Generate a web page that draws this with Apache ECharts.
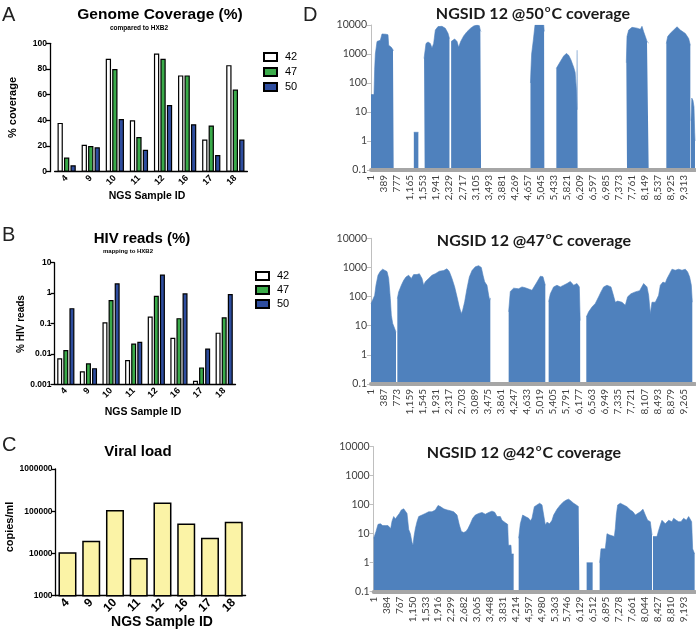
<!DOCTYPE html>
<html><head><meta charset="utf-8">
<script src="https://cdn.jsdelivr.net/npm/echarts@6/dist/echarts.min.js"></script>
<style>html,body{margin:0;padding:0;background:#fff}#c{width:696px;height:632px}</style>
</head><body><div id="c"></div>
<script>
// ---------- Data ----------
const sampleIds = ['4','9','10','11','12','16','17','18'];
const tempNames = ['42','47','50'];
// A: genome coverage (%)
const coverage42 = [38, 21, 88, 40, 92, 75, 25, 83];
const coverage47 = [11, 20, 80, 27, 88, 75, 36, 64];
const coverage50 = [5, 19, 41, 17, 52, 37, 13, 25];
// B: HIV reads (%)
const reads42 = [0.0072, 0.0027, 0.11, 0.0063, 0.17, 0.034, 0.0013, 0.05];
const reads47 = [0.0135, 0.0049, 0.59, 0.022, 0.82, 0.15, 0.0036, 0.16];
const reads50 = [0.32, 0.0034, 2.1, 0.025, 4.1, 0.98, 0.015, 0.93];
// C: viral load (copies/ml)
const viralLoad = [10700, 19900, 107000, 7800, 162000, 51000, 23600, 56600];

// D: tick labels (genome position)
const ticks50 = ['1','389','777','1,165','1,553','1,941','2,329','2,717','3,105','3,493','3,881','4,269','4,657','5,045','5,433','5,821','6,209','6,597','6,985','7,373','7,761','8,149','8,537','8,925','9,313'];
const ticks47 = ['1','387','773','1,159','1,545','1,931','2,317','2,703','3,089','3,475','3,861','4,247','4,633','5,019','5,405','5,791','6,177','6,563','6,949','7,335','7,721','8,107','8,493','8,879','9,265'];
const ticks42 = ['1','384','767','1,150','1,533','1,916','2,299','2,682','3,065','3,448','3,831','4,214','4,597','4,980','5,363','5,746','6,129','6,512','6,895','7,278','7,661','8,044','8,427','8,810','9,193'];
const genomeEnd50 = 9640, genomeEnd47 = 9611, genomeEnd42 = 9540;

// D: coverage depth [position, depth]; '-' marks uncovered gaps
const cov50 = [
 [1,40],[90,40],[110,300],[130,1000],[180,2700],[279,3000],[328,4900],[378,5200],[447,4800],[507,4600],[527,2000],[606,1700],[655,1400],[675,1300],
 [700,'-'],
 [1275,2],[1410,2],
 [1500,'-'],
 [1580,700],[1598,800],[1637,2300],[1697,2600],[1766,2300],[1816,1600],[1865,2300],[1915,6700],[1994,8800],[2113,9000],[2212,7700],[2292,5200],[2335,3400],
 [2360,'-'],
 [2385,2700],[2490,3300],[2560,2700],[2609,1700],[2669,2700],[2758,4200],[2857,5900],[2956,7600],[3055,9200],[3155,10000],[3224,9500],[3254,6500],[3275,6000],
 [4000,'-'],
 [4745,100],[4760,300],[4780,1000],[4830,3000],[4880,10000],[5140,10000],[5150,7000],[5158,6000],
 [5300,'-'],
 [5515,320],[5554,365],[5634,550],[5733,850],[5812,1050],[5882,900],[5951,620],[6030,350],[6075,230],[6110,60],[6125,12],[6129,12],[6133,1350],[6148,1350],
 [7000,'-'],
 [7597,500],[7617,4000],[7667,6700],[7766,8300],[7915,7800],[8014,7100],[8063,9000],[8113,5800],[8163,4000],[8212,2700],[8262,2400],
 [8500,'-'],
 [8787,2300],[8827,4000],[8906,5200],[9006,6700],[9105,8700],[9154,8300],[9204,6700],[9253,6000],[9353,5100],[9452,3400],[9501,2000],
 [9510,'-'],
 [9520,5],[9545,30],[9580,25],[9610,15],[9630,2],[9640,1]
];
const cov47 = [
 [1,57],[50,57],[110,110],[149,245],[209,540],[278,740],[347,870],[406,900],[476,720],[525,420],[574,85],[604,23],[644,12],[703,8],[742,6],
 [760,'-'],
 [782,85],[822,145],[901,245],[970,360],[1039,470],[1118,540],[1197,420],[1266,570],[1365,570],[1435,610],[1514,420],[1563,245],[1613,325],[1711,420],[1810,540],[1909,610],[2028,740],[2156,780],[2255,900],[2324,720],[2403,420],[2482,215],[2552,98],[2621,44],[2680,26],[2720,34],[2779,66],[2848,190],[2918,470],[2997,780],[3095,1050],[3194,1150],[3273,1000],[3323,540],[3372,320],[3441,245],[3491,110],[3520,75],[3540,90],
 [3800,'-'],
 [4084,30],[4133,150],[4232,195],[4380,185],[4479,215],[4578,200],[4628,185],[4776,165],[4924,315],[5023,500],[5102,480],[5142,320],[5171,245],
 [5220,'-'],
 [5270,67],[5320,125],[5418,215],[5517,245],[5616,215],[5715,245],[5814,280],[5913,330],[6012,245],[6111,280],[6180,215],[6205,15],
 [6300,'-'],
 [6387,20],[6457,30],[6556,44],[6654,58],[6753,98],[6822,145],[6901,215],[7000,245],[7119,215],[7178,125],[7247,64],[7317,70],[7445,64],[7544,50],[7613,98],[7712,125],[7840,145],[7969,160],[8088,280],[8137,315],[8187,215],[8236,110],[8285,26],[8335,64],[8434,64],[8532,110],[8582,245],[8661,315],[8730,290],[8779,410],[8858,610],[8928,870],[9027,800],[9126,870],[9225,800],[9324,870],[9393,700],[9452,470],[9502,245],[9531,64]
];
const cov42 = [
 [1,7],[31,7],[70,12],[130,21],[199,22],[268,19],[347,19],[426,19],[466,22],[506,15],[545,27],[595,39],[644,32],[694,39],[763,50],[822,66],[892,72],[941,66],[990,50],[1040,14],[1089,10],[1139,5],[1168,4],[1198,8],[1238,15],[1287,26],[1337,39],[1386,44],[1436,44],[1535,50],[1634,57],[1733,57],[1831,66],[1911,94],[1980,86],[2079,72],[2178,66],[2277,62],[2376,57],[2475,44],[2544,20],[2603,12],[2673,11],[2742,12],[2801,15],[2870,22],[2940,34],[3019,44],[3118,50],[3217,54],[3316,47],[3414,54],[3513,60],[3593,55],[3662,39],[3761,39],[3810,29],[3909,24],[3978,21],[4000,4],[4077,4],[4090,2],[4156,2],
 [4200,'-'],
 [4305,7],[4354,22],[4424,44],[4503,39],[4602,34],[4651,28],[4701,34],[4770,85],[4849,98],[4928,112],[4998,98],[5047,44],[5097,20],[5146,25],[5225,22],[5295,29],[5344,44],[5443,70],[5542,98],[5641,127],[5720,145],[5789,155],[5858,135],[5937,112],[6017,98],[6086,85],[6106,85],
 [6200,'-'],
 [6323,1],[6501,1],
 [6600,'-'],
 [6709,1],[6749,3],[6877,3],[6927,10],[7006,9],[7145,8],[7174,15],[7204,44],[7244,98],[7323,112],[7422,98],[7521,85],[7620,66],[7699,57],[7768,44],[7818,50],[7917,57],[7996,70],[8065,44],[8134,29],[8213,26],[8263,9],
 [8275,'-'],
 [8292,8],[8411,8],[8460,13],[8510,20],[8559,29],[8609,29],[8658,22],[8708,20],[8757,29],[8807,26],[8856,26],[8906,34],[8985,29],[9054,26],[9124,26],[9203,34],[9282,29],[9351,39],[9401,34],[9440,26],[9470,3],[9529,2]
];

// ---------- Styles ----------
const GP = 'Liberation Sans, Arial, sans-serif';
const XL = 'Lato, Noto Sans, sans-serif';
const barColors = ['#ffffff', '#3aab4a', '#2e4d9f'];
const fmtNum = v => String(parseFloat(Number(v).toPrecision(3)));

function gpXAxis(gi, fontSize, margin) {
  return {gridIndex: gi, type: 'category', data: sampleIds,
    axisLine: {lineStyle: {color: '#000', width: 1.3}},
    axisTick: {alignWithLabel: true, length: 4, lineStyle: {color: '#000', width: 1.3}},
    axisLabel: {rotate: 45, fontSize: fontSize, fontWeight: 'bold', color: '#000', margin: margin, fontFamily: GP},
    splitLine: {show: false}};
}
function gpYAxis(gi, extra) {
  return Object.assign({gridIndex: gi,
    axisLine: {show: true, lineStyle: {color: '#000', width: 1.3}},
    axisTick: {show: true, length: 4, lineStyle: {color: '#000', width: 1.3}},
    axisLabel: {fontSize: 8.5, fontWeight: 'bold', color: '#000', margin: 3, fontFamily: GP, formatter: fmtNum},
    splitLine: {show: false}, minorTick: {show: false}}, extra);
}
function dXAxis(gi, ticks, max) {
  const vals = ticks.map(t => Number(t.replace(/,/g, '')));
  const map = {}; vals.forEach((v, i) => map[v] = ticks[i]);
  return {gridIndex: gi, type: 'value', min: 1, max: max, z: 5,
    axisLine: {lineStyle: {color: '#a6a6a6', width: 4}},
    axisTick: {show: false}, splitLine: {show: false},
    axisLabel: {customValues: vals, formatter: v => map[v] !== undefined ? map[v] : '', rotate: 90,
      fontSize: 10, color: '#404040', margin: 5, fontFamily: XL}};
}
function dYAxis(gi) {
  return {gridIndex: gi, type: 'log', logBase: 10, min: 0.1, max: 10000,
    axisLine: {show: true, lineStyle: {color: '#bfbfbf', width: 1}},
    axisTick: {show: true, length: 4, lineStyle: {color: '#bfbfbf'}},
    axisLabel: {fontSize: 10.5, color: '#404040', margin: 4, fontFamily: XL, formatter: fmtNum},
    splitLine: {show: false}, minorTick: {show: false}};
}
function barSeries(name, gi, data, color) {
  return {type: 'bar', name: name, xAxisIndex: gi, yAxisIndex: gi, data: data,
    barWidth: 5.3, barGap: '22%', clip: true,
    itemStyle: {color: color, borderColor: '#000', borderWidth: 1.2}};
}
// Log-axis bars: ECharts bases log bars at 1, so each bar is stacked on a
// tiny invisible floor far below the axis minimum (clipped by the grid).
const LOG_FLOOR = 1e-7;
function logBarSeries(name, gi, data, color) {
  return [
    {type: 'bar', name: name + ' floor', stack: 's' + name, xAxisIndex: gi, yAxisIndex: gi,
     data: data.map(() => LOG_FLOOR), barWidth: 5, barGap: '22%', clip: true, silent: true,
     itemStyle: {color: 'rgba(0,0,0,0)', borderWidth: 0}},
    {type: 'bar', name: name, stack: 's' + name, xAxisIndex: gi, yAxisIndex: gi, data: data,
     barWidth: 5, barGap: '22%', clip: true,
     itemStyle: {color: color, borderColor: '#000', borderWidth: 1.2}}
  ];
}
function covSeries(name, gi, data) {
  return {type: 'line', name: name, xAxisIndex: gi, yAxisIndex: gi, data: data,
    symbol: 'none', showSymbol: false, connectNulls: false,
    lineStyle: {width: 0.6, color: '#4f81bd'},
    areaStyle: {color: '#4f81bd', opacity: 1, origin: 'start'}};
}
function txt(x, y, text, size, opts) {
  return {type: 'text', x: x, y: y, style: Object.assign({text: text, fontSize: size,
    fontFamily: GP, fontWeight: 'bold', fill: '#000', align: 'center', verticalAlign: 'middle'}, opts || {})};
}
function vtxt(x, y, text, size) {
  const t = txt(x, y, text, size); t.rotation = Math.PI / 2; return t;
}
function dTitle(x, y, temp) {
  return {type: 'text', x: x, y: y, style: {
    text: '{t|NGSID 12 @' + temp + '}{s|o}{t|C coverage}',
    align: 'center', verticalAlign: 'middle',
    rich: {t: {fontSize: 16, fontWeight: 'bold', fontFamily: XL, fill: '#1a1a1a', lineHeight: 20},
           s: {fontSize: 10, fontWeight: 'bold', fontFamily: XL, fill: '#1a1a1a', lineHeight: 20, verticalAlign: 'top', padding: [0,1,8,1]}}}};
}
function letter(x, y, t) {
  return {type: 'text', x: x, y: y, style: {text: t, fontSize: 20, fontFamily: GP, fontWeight: 'normal', fill: '#222', align: 'left', verticalAlign: 'middle'}};
}

const chart = echarts.init(document.getElementById('c'), null, {renderer: 'canvas'});
const option = {
  animation: false,
  backgroundColor: '#fff',
  grid: [
    {left: 54.6, top: 43.3, width: 192.8, height: 128.4},
    {left: 54.5, top: 262.7, width: 181, height: 121.6},
    {left: 55.6, top: 469, width: 190, height: 126.7},
    {left: 371, top: 25, width: 324, height: 145},
    {left: 371, top: 238.3, width: 324, height: 145.7},
    {left: 373.7, top: 446.7, width: 321.3, height: 145}
  ],
  legend: [
    {data: tempNames, orient: 'vertical', left: 258, top: 46, itemWidth: 13, itemHeight: 8, itemGap: 3, icon: 'rect',
     textStyle: {fontSize: 11, fontFamily: GP, color: '#000', lineHeight: 12, padding: [0,0,0,3]}},
    {data: tempNames, orient: 'vertical', left: 250, top: 265, itemWidth: 13, itemHeight: 8, itemGap: 2, icon: 'rect',
     textStyle: {fontSize: 11, fontFamily: GP, color: '#000', lineHeight: 12, padding: [0,0,0,3]}}
  ],
  xAxis: [
    gpXAxis(0, 9, 5), gpXAxis(1, 9, 5), gpXAxis(2, 12, 5),
    dXAxis(3, ticks50, genomeEnd50), dXAxis(4, ticks47, genomeEnd47), dXAxis(5, ticks42, genomeEnd42)
  ],
  yAxis: [
    gpYAxis(0, {type: 'value', min: 0, max: 100, interval: 20, offset: 4.6}),
    gpYAxis(1, {type: 'log', logBase: 10, min: 0.001, max: 10}),
    gpYAxis(2, {type: 'log', logBase: 10, min: 1000, max: 1000000}),
    dYAxis(3), dYAxis(4), dYAxis(5)
  ],
  series: [
    barSeries('42', 0, coverage42, barColors[0]),
    barSeries('47', 0, coverage47, barColors[1]),
    barSeries('50', 0, coverage50, barColors[2]),
    ...logBarSeries('42', 1, reads42, barColors[0]),
    ...logBarSeries('47', 1, reads47, barColors[1]),
    ...logBarSeries('50', 1, reads50, barColors[2]),
    {type: 'bar', name: 'Viral load', xAxisIndex: 2, yAxisIndex: 2, data: viralLoad, barWidth: 18, clip: true,
     itemStyle: {color: '#fbf3a6', borderColor: '#000', borderWidth: 1.5}},
    covSeries('50C', 3, cov50),
    covSeries('47C', 4, cov47),
    covSeries('42C', 5, cov42)
  ],
  graphic: [
    letter(2, 15, 'A'), letter(2, 235, 'B'), letter(2, 445, 'C'), letter(303, 15, 'D'),
    txt(160, 15, 'Genome Coverage (%)', 15.5),
    txt(139, 28, 'compared to HXB2', 6.5),
    txt(142, 239, 'HIV reads (%)', 15),
    txt(128, 251.5, 'mapping to HXB2', 6),
    txt(138, 452, 'Viral load', 15),
    vtxt(12.5, 107.5, '% coverage', 11),
    vtxt(21.5, 324, '% HIV reads', 10),
    vtxt(9.5, 527, 'copies/ml', 11),
    txt(147, 196, 'NGS Sample ID', 10.5),
    txt(143, 412, 'NGS Sample ID', 10.5),
    txt(162, 622, 'NGS Sample ID', 14),
    dTitle(533, 14, '50'), dTitle(534, 240.7, '47'), dTitle(524, 453, '42')
  ]
};
chart.setOption(option);
</script></body></html>
